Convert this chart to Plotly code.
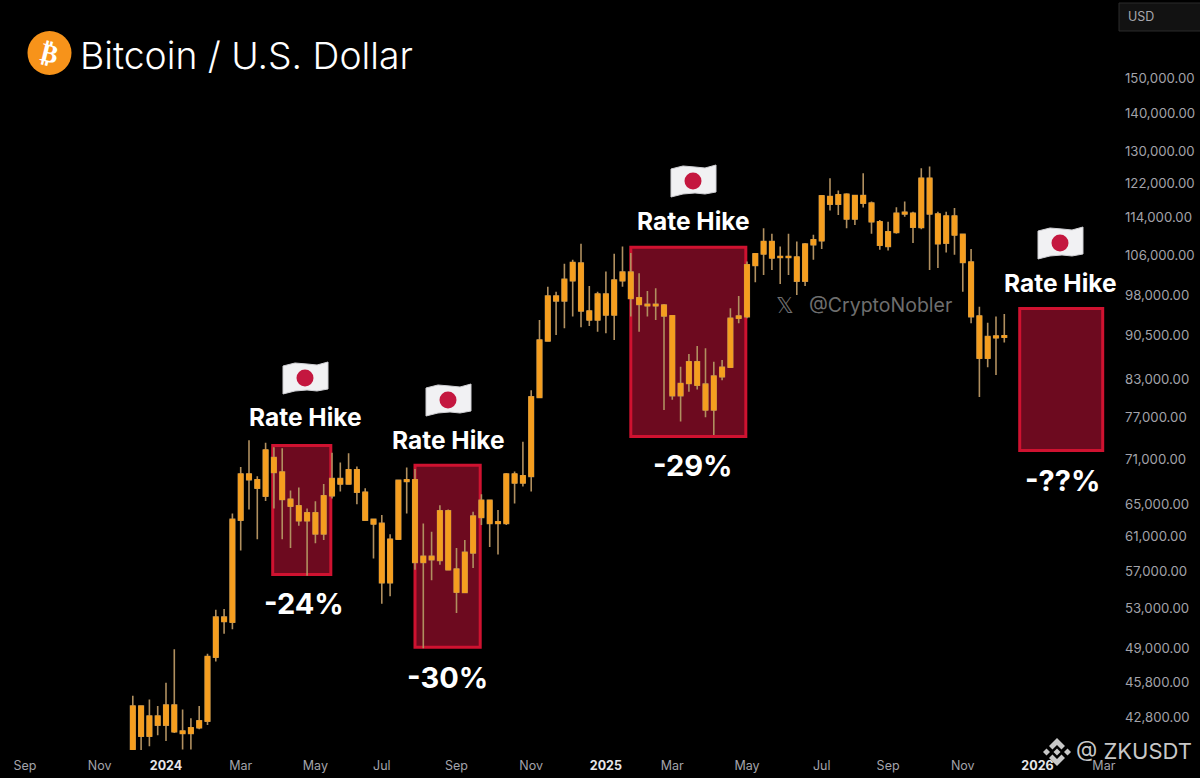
import math
import pandas as pd
import plotly.graph_objects as go

# weekly candles, first bar is the week of 2023-12-04
opens = [40170, 43740, 41230, 42890, 42140, 43830, 41650, 41450, 41920, 42470,
         48150, 52080, 51570, 63000, 68970, 68200, 66040, 71220, 69240, 65640,
         64790, 63910, 63910, 61320, 66080, 68340, 67620, 69550, 66550, 63090,
         62600, 55720, 60680, 68200, 68200, 57990, 58680, 58220, 64160, 57230,
         54660, 59070, 63340, 65500, 62800, 62600, 68970, 67760, 68650, 80130,
         89530, 97780, 96870, 100760, 104320, 94970, 93300, 98170, 94220, 100760,
         102480, 97450, 96200, 96200, 96070, 94090, 80430, 82370, 85960, 82260,
         78200, 83460, 85030, 93610, 93920, 103840, 106200, 108840, 105480, 105480,
         105570, 100700, 108150, 108990, 118880, 117110, 119420, 113730, 117340, 117340,
         113130, 107790, 110800, 115260, 115030, 111850, 123220, 114880, 108490, 114420,
         110360, 104530, 94040, 86540, 90420, 90180]
highs = [44630, 43800, 44310, 43740, 45800, 48900, 43450, 42700, 43740, 48470,
         52850, 52920, 63830, 69910, 73700, 68650, 73320, 72680, 72540, 66760,
         67160, 64460, 65380, 67620, 71920, 70540, 71840, 69990, 67080, 63200,
         63630, 61280, 68200, 69860, 69640, 62600, 61590, 64880, 64340, 59650,
         60600, 64040, 66270, 65600, 64250, 69100, 69320, 73460, 81300, 93300,
         99590, 98620, 104180, 105000, 108360, 99730, 98620, 102600, 106260, 107790,
         106410, 102270, 98760, 99280, 96260, 94220, 85130, 87280, 88670, 88270,
         85960, 86250, 95460, 97780, 104650, 106410, 111710, 110500, 107790, 110500,
         108840, 108490, 110290, 119040, 123220, 120290, 119660, 119280, 124440, 117710,
         113500, 113130, 116420, 117710, 115400, 125670, 126080, 115400, 115400, 116230,
         110500, 107250, 95760, 92800, 93920, 94410]
lows = [40170, 40120, 40430, 41310, 40850, 41500, 40170, 40170, 41790, 42140,
        47740, 50400, 50870, 59370, 64340, 60680, 65410, 64460, 60680, 59650,
        62320, 56500, 60220, 60600, 65730, 66630, 67620, 65000, 63000, 58420,
        53480, 54250, 60600, 63830, 57150, 49000, 56000, 57730, 57150, 52500,
        54600, 57350, 62400, 59770, 58880, 62400, 65090, 67300, 66630, 80100,
        89410, 90600, 91800, 93920, 92000, 92220, 91190, 90900, 89700, 99590,
        93920, 91190, 93920, 93300, 78200, 79800, 76450, 81030, 81410, 77110,
        74450, 82900, 85030, 92700, 93610, 100450, 101930, 102930, 100120, 101930,
        97980, 99730, 105000, 107250, 115650, 114650, 111710, 112430, 116330, 110500,
        107100, 106950, 110500, 114260, 108490, 111500, 102930, 103300, 106530, 106050,
        98620, 92700, 80230, 85030, 83740, 89250]
closes = [43740, 41230, 42890, 42140, 43830, 41590, 41450, 41920, 42490, 48210,
          52080, 51630, 63090, 68970, 68200, 67080, 72300, 69180, 65600, 64750,
          62920, 62920, 61320, 66080, 68340, 67620, 69550, 66550, 63000, 62520,
          55720, 60680, 68110, 67970, 57990, 58680, 58300, 64160, 57150, 54700,
          59140, 63500, 65500, 62600, 62600, 68970, 67760, 68740, 80230, 89700,
          97780, 96870, 101040, 104450, 94970, 93300, 98170, 94220, 100900, 102480,
          97330, 96200, 95940, 95940, 94040, 80430, 82370, 85960, 82100, 78200,
          83570, 85030, 93610, 94040, 103970, 106260, 108840, 105360, 105690, 105690,
          100700, 108280, 109200, 119040, 117110, 119280, 113730, 119110, 119110, 113130,
          108020, 110930, 115030, 114880, 111930, 123220, 114880, 108360, 114420, 110220,
          104450, 93920, 86540, 90300, 90100, 90470]
bar_dates = pd.date_range("2023-12-04", periods=len(closes), freq="7D")

price_ticks = [150000, 140000, 130000, 122000, 114000, 106000, 98000, 90500, 83000,
               77000, 71000, 65000, 61000, 57000, 53000, 49000, 45800, 42800]
time_ticks = ["2023-09-04", "2023-11-06", "2024-01-01", "2024-03-04", "2024-05-06",
              "2024-07-01", "2024-09-02", "2024-11-04", "2025-01-06", "2025-03-03",
              "2025-05-05", "2025-07-07", "2025-09-01", "2025-11-03", "2026-01-05",
              "2026-03-02"]
time_labels = ["Sep", "Nov", "2024", "Mar", "May", "Jul", "Sep", "Nov", "2025", "Mar",
               "May", "Jul", "Sep", "Nov", "2026", "Mar"]

box_starts = ["2024-03-31", "2024-07-29", "2025-01-27", "2025-12-21"]
box_ends = ["2024-05-19", "2024-09-22", "2025-05-04", "2026-03-01"]
box_tops = [72930, 70160, 107630, 95430]
box_bottoms = [56630, 49090, 74230, 72230]
drop_labels = ["-24%", "-30%", "-29%", "-??%"]

PLOT_W = 1120
PLOT_H = 750
FONT = "Inter"
ORANGE = "#f59e1f"
WICK = "#b08f5f"


def px(x):
    return x / PLOT_W


def py(y):
    return 1 - y / PLOT_H


def poly(points):
    return "M" + " L".join(f"{px(x):.5f},{py(y):.5f}" for x, y in points) + " Z"


def flag_shapes(cx, cy):
    # little waving flag, drawn since no emoji font is around
    pts = [(-22, -12), (-10, -15), (2, -14), (12, -13), (23, -16),
           (23, 11), (12, 13), (2, 12), (-10, 13), (-22, 16)]
    shapes = [dict(type="path", xref="paper", yref="paper", layer="above",
                   path=poly([(cx + a, cy + b) for a, b in pts]),
                   fillcolor="#f1f1f3", line=dict(color="#d0d0d4", width=1))]
    shapes.append(dict(type="circle", xref="paper", yref="paper", layer="above",
                       x0=px(cx - 8.5), x1=px(cx + 8.5), y0=py(cy + 8.5), y1=py(cy - 8.5),
                       fillcolor="#c4173f", line=dict(width=0)))
    return shapes


def binance_shapes(cx, cy):
    col = "#c8c8c8"
    parts = [
        [(-3.5, 0), (0, -3.5), (3.5, 0), (0, 3.5)],
        [(-14, 0), (-10.5, -3.5), (-7, 0), (-10.5, 3.5)],
        [(14, 0), (10.5, -3.5), (7, 0), (10.5, 3.5)],
        [(0, -14), (8, -6), (4.5, -2.5), (0, -7), (-4.5, -2.5), (-8, -6)],
        [(0, 14), (8, 6), (4.5, 2.5), (0, 7), (-4.5, 2.5), (-8, 6)],
    ]
    return [dict(type="path", xref="paper", yref="paper", layer="above",
                 path=poly([(cx + a, cy + b) for a, b in p]),
                 fillcolor=col, line=dict(width=0)) for p in parts]


def text_at(x, y, text, size, color="white", family=FONT, xanchor="center", weight=None, **kw):
    font = dict(size=size, color=color, family=family)
    if weight:
        font["weight"] = weight
    return dict(x=px(x), y=py(y), xref="paper", yref="paper", text=text, showarrow=False,
                xanchor=xanchor, yanchor="middle", font=font, **kw)


fig = go.Figure()
# wicks first, the bodies go over them so they stay clean orange
fig.add_trace(go.Candlestick(
    x=bar_dates, open=opens, high=highs, low=lows, close=closes,
    increasing=dict(line=dict(color=WICK, width=1.6), fillcolor=WICK),
    decreasing=dict(line=dict(color=WICK, width=1.6), fillcolor=WICK),
    whiskerwidth=0, showlegend=False, hoverinfo="skip"))
fig.add_trace(go.Candlestick(
    x=bar_dates, open=opens, close=closes,
    high=[max(a, b) for a, b in zip(opens, closes)],
    low=[min(a, b) for a, b in zip(opens, closes)],
    increasing=dict(line=dict(color=ORANGE, width=1), fillcolor=ORANGE),
    decreasing=dict(line=dict(color=ORANGE, width=1), fillcolor=ORANGE),
    whiskerwidth=0, showlegend=False))

shapes = []
for x0, x1, top, bottom in zip(box_starts, box_ends, box_tops, box_bottoms):
    shapes.append(dict(type="rect", xref="x", yref="y", x0=x0, x1=x1, y0=bottom, y1=top,
                       layer="below", fillcolor="#6d0a1f",
                       line=dict(color="#cf1230", width=3)))

# flag centre x, flag y, label y, percent x, percent y (pixels of the 1200x778 page)
label_pos = [(305, 378, 417, 304, 603), (448, 400, 440, 447.5, 677),
             (693, 181, 221, 693, 466), (1060, 243, 283, 1062, 480)]
annotations = []
for (cx, flag_y, hike_y, drop_x, drop_y), drop in zip(label_pos, drop_labels):
    shapes += flag_shapes(cx, flag_y)
    annotations.append(text_at(cx, hike_y, "<b>Rate Hike</b>", 24.5))
    annotations.append(text_at(drop_x, drop_y, "<b>" + drop + "</b>", 29))

# header: coin badge and pair name
shapes.append(dict(type="circle", xref="paper", yref="paper", layer="above",
                   x0=px(27.5), x1=px(71.5), y0=py(75), y1=py(31),
                   fillcolor="#f7931a", line=dict(width=0)))
annotations.append(text_at(49, 53, "<b>₿</b>", 26, family="DejaVu Sans", textangle=14))
annotations.append(text_at(78, 55, "Bitcoin / U.S. Dollar", 37.3, xanchor="left", weight=300))

# currency button
shapes.append(dict(type="rect", xref="paper", yref="paper", layer="above",
                   x0=px(1119), x1=px(1210), y0=py(31), y1=py(3),
                   fillcolor="#121212", line=dict(color="#2a2a2a", width=1)))
annotations.append(text_at(1126, 17, "USD", 12.5, color="#a8a8ae", xanchor="left"))

# watermarks
annotations.append(text_at(785, 306, "𝕏", 22, color="#6e6e6e", family="DejaVu Sans"))
annotations.append(text_at(880.5, 305, "@CryptoNobler", 19.5, color="#6e6e6e"))
shapes += binance_shapes(1057, 752)
annotations.append(text_at(1074, 751, "@ ZKUSDT", 22, color="#c8c8c8", xanchor="left"))

tick_text = []
for t in time_labels:
    if t.isdigit():
        tick_text.append(f'<span style="color:#e6e6ea"><b>{t}</b></span>')
    else:
        tick_text.append(t)

fig.update_layout(
    width=1200, height=778,
    margin=dict(l=0, r=80, t=0, b=28, autoexpand=False),
    paper_bgcolor="black", plot_bgcolor="black",
    font=dict(family=FONT, color="#a3a3aa", size=12.5),
    boxgap=0.22,
    showlegend=False,
    shapes=shapes, annotations=annotations,
    xaxis=dict(
        type="date", range=["2023-08-14", "2026-03-15 14:00"],
        rangeslider=dict(visible=False), showgrid=False, zeroline=False,
        tickmode="array", tickvals=time_ticks, ticktext=tick_text, ticks="",
        showline=False, tickangle=0, ticklabelstandoff=6),
    yaxis=dict(
        type="log", side="right", range=[math.log10(40130), math.log10(174800)],
        showgrid=False, zeroline=False, showline=False, ticks="",
        tickfont=dict(size=13.2), ticklabelstandoff=4,
        tickmode="array", tickvals=price_ticks,
        ticktext=[f"{v:,.2f}" for v in price_ticks]),
)

# browser default body margin would shift everything by 8px
fig.write_html("out.html", config=dict(displayModeBar=False),
               post_script="document.body.style.margin='0';document.body.style.background='black';")
